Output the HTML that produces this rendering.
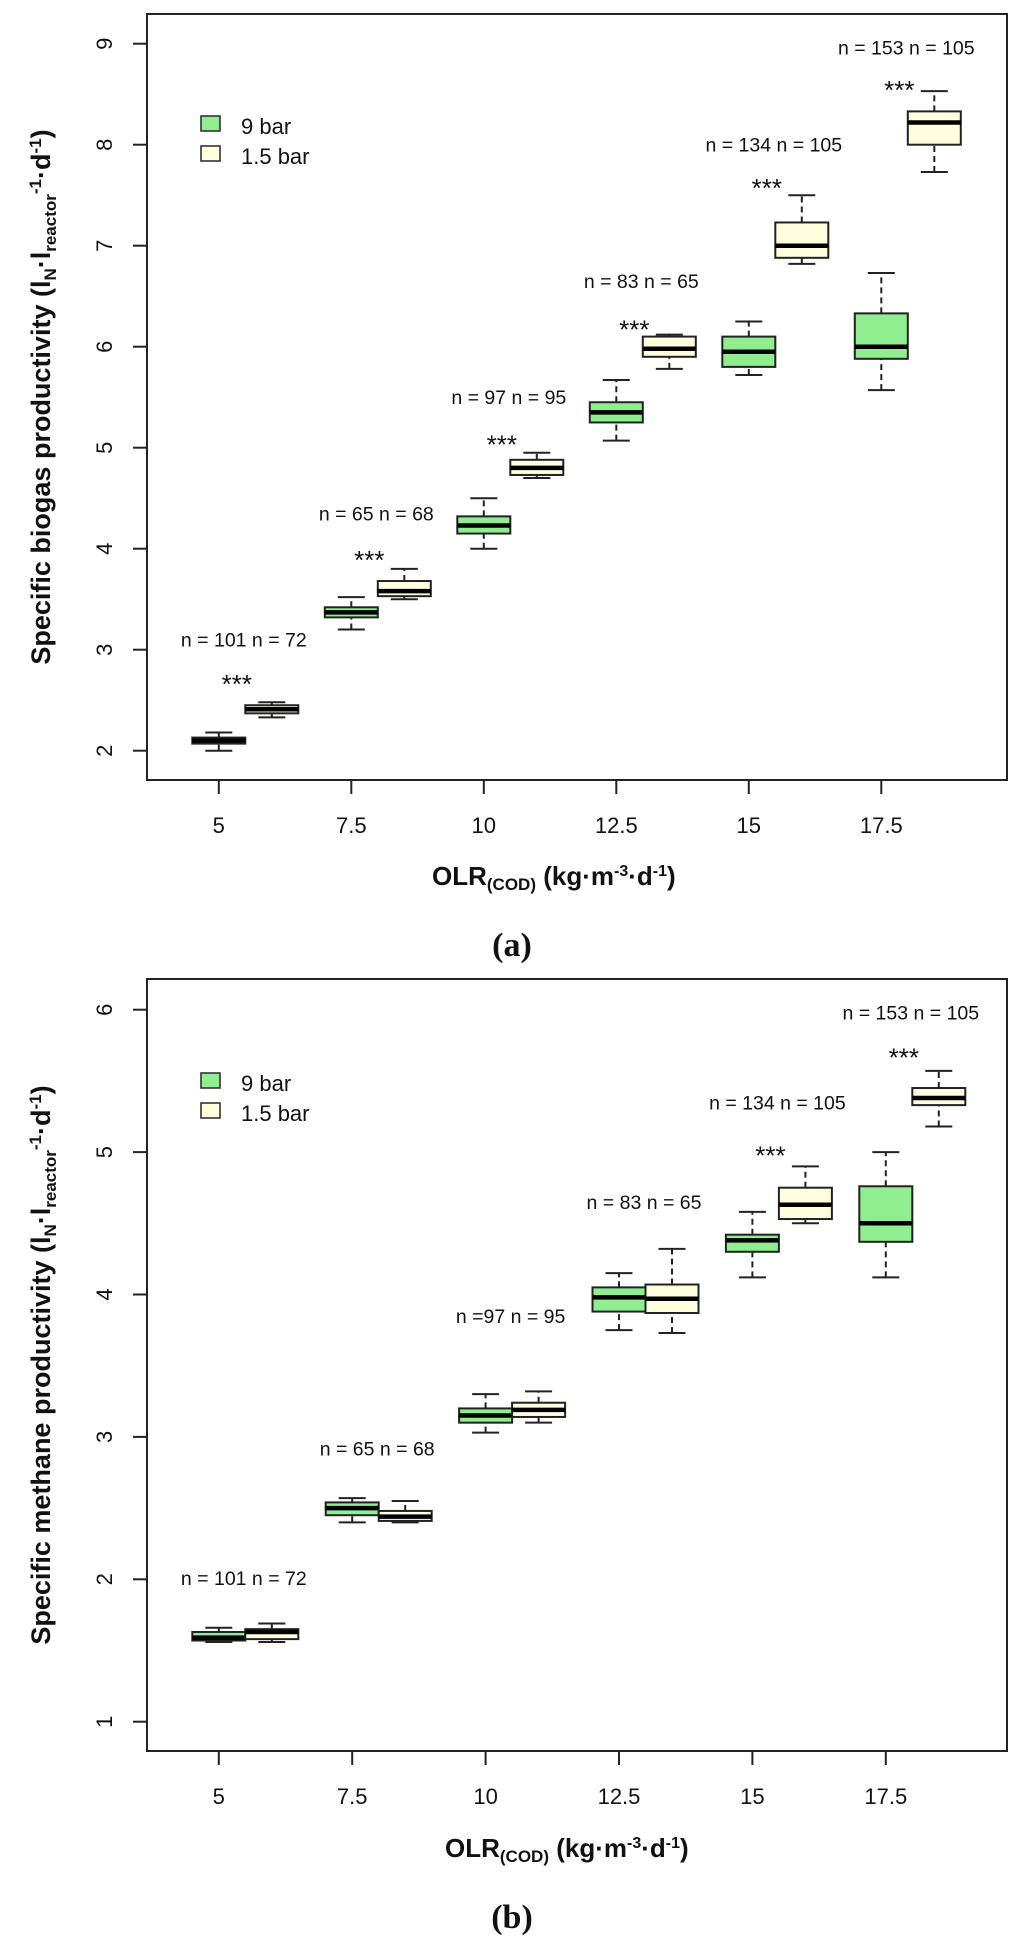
<!DOCTYPE html>
<html><head><meta charset="utf-8"><style>
html,body{margin:0;padding:0;background:#fff}
svg{display:block}
text{font-family:"Liberation Sans",Arial,sans-serif;fill:#111}
</style></head><body>
<svg id="chart" width="1024" height="1948" viewBox="0 0 1024 1948" xmlns="http://www.w3.org/2000/svg"></svg>
<script>
// ---- data ----
const categories = [5, 7.5, 10, 12.5, 15, 17.5];
const tickLabels = ["5", "7.5", "10", "12.5", "15", "17.5"];
// panel a: biogas [whiskerLow, q1, median, q3, whiskerHigh]
const biogasHigh = [[2.0,2.07,2.1,2.13,2.18],[3.2,3.32,3.37,3.42,3.52],[4.0,4.15,4.23,4.32,4.5],[5.07,5.25,5.35,5.45,5.67],[5.72,5.8,5.95,6.1,6.25],[5.57,5.88,6.0,6.33,6.73]];
const biogasLow = [[2.33,2.37,2.41,2.45,2.48],[3.5,3.53,3.58,3.68,3.8],[4.7,4.73,4.8,4.88,4.95],[5.78,5.9,5.98,6.1,6.12],[6.82,6.88,7.0,7.23,7.5],[7.73,8.0,8.22,8.33,8.53]];
const biogasN = ["n = 101 n = 72","n = 65 n = 68","n = 97 n = 95","n = 83 n = 65","n = 134 n = 105","n = 153 n = 105"];
const biogasNY = [3.1, 4.35, 5.5, 6.65, 8.0, 8.96];
const biogasStarY = [2.71, 3.94, 5.08, 6.22, 7.62, 8.59];
const biogasYTicks = [2,3,4,5,6,7,8,9];
// panel b: methane
const methaneHigh = [[1.56,1.57,1.59,1.63,1.66],[2.4,2.45,2.5,2.54,2.57],[3.03,3.1,3.15,3.2,3.3],[3.75,3.88,3.98,4.05,4.15],[4.12,4.3,4.38,4.42,4.58],[4.12,4.37,4.5,4.76,5.0]];
const methaneLow = [[1.56,1.58,1.63,1.65,1.69],[2.4,2.41,2.44,2.48,2.55],[3.1,3.14,3.19,3.24,3.32],[3.73,3.87,3.97,4.07,4.32],[4.5,4.53,4.63,4.75,4.9],[5.18,5.33,5.38,5.45,5.57]];
const methaneN = ["n = 101 n = 72","n = 65 n = 68","n =97 n = 95","n = 83  n = 65","n = 134  n = 105","n = 153  n = 105"];
const methaneNY = [2.01, 2.92, 3.85, 4.65, 5.35, 5.98];
const methaneStar = [false,false,false,false,true,true];
const methaneStarY = [0,0,0,0,5.01,5.70];
const methaneYTicks = [1,2,3,4,5,6];

const NS = "http://www.w3.org/2000/svg";
const svg = document.getElementById("chart");
function mk(tag, attrs, parent){const e=document.createElementNS(NS,tag);for(const k in attrs)e.setAttribute(k,attrs[k]);(parent||svg).appendChild(e);return e;}

function panel(cfg){
  const g = mk("g",{});
  
  
  const L=147,R=1007,T=cfg.top,B=cfg.bottom;
  const y = v => cfg.y0 - (v - cfg.v0) * cfg.unit;
  const x = c => 218.8 + (c - 5) / 2.5 * cfg.xstep;
  const frame = mk("rect",{x:L,y:T,width:R-L,height:B-T,fill:"none",stroke:"#222","stroke-width":2},g);
  
  
  cfg.yticks.forEach(v=>{
    const t=mk("line",{x1:L-14,x2:L,y1:y(v),y2:y(v),stroke:"#222","stroke-width":2},g);
    
    
    const lb=mk("text",{x:0,y:0,"font-size":22,"text-anchor":"middle",transform:`translate(112,${y(v)}) rotate(-90)`},g);
    lb.textContent=v;
    
    
  });
  categories.forEach((c,i)=>{
    const t=mk("line",{x1:x(c),x2:x(c),y1:B,y2:B+14,stroke:"#222","stroke-width":2},g);
    
    
    const lb=mk("text",{x:x(c),y:B+53,"font-size":22,"text-anchor":"middle"},g);
    lb.textContent=tickLabels[i];
    
    
  });
  function box(cx, s, fill, nm){
    const bg=mk("g",{},g);
    
    
    const hw=26.5, cw=13.5;
    mk("line",{x1:cx,x2:cx,y1:y(s[0]),y2:y(s[1]),stroke:"#222","stroke-width":2,"stroke-dasharray":"6,4"},bg);
    mk("line",{x1:cx,x2:cx,y1:y(s[3]),y2:y(s[4]),stroke:"#222","stroke-width":2,"stroke-dasharray":"6,4"},bg);
    mk("line",{x1:cx-cw,x2:cx+cw,y1:y(s[0]),y2:y(s[0]),stroke:"#222","stroke-width":2},bg);
    mk("line",{x1:cx-cw,x2:cx+cw,y1:y(s[4]),y2:y(s[4]),stroke:"#222","stroke-width":2},bg);
    mk("rect",{x:cx-hw,y:y(s[3]),width:2*hw,height:y(s[1])-y(s[3]),fill:fill,stroke:"#222","stroke-width":2},bg);
    mk("line",{x1:cx-hw,x2:cx+hw,y1:y(s[2]),y2:y(s[2]),stroke:"#000","stroke-width":4.5},bg);
  }
  categories.forEach((c,i)=>{
    box(x(c), cfg.high[i], "#90EE90", "box-9bar-"+tickLabels[i]);
    box(x(c)+53, cfg.low[i], "#FFFFE0", "box-1.5bar-"+tickLabels[i]);
    const n=mk("text",{x:x(c)+25,y:y(cfg.nY[i])+7,"font-size":19.5,"text-anchor":"middle"},g);
    n.textContent=cfg.n[i];
    
    
    if(cfg.star[i]){
      const s=mk("text",{x:x(c)+18,y:y(cfg.starY[i])+14,"font-size":26,"text-anchor":"middle"},g);
      s.textContent="***";
      
      
    }
  });
  const lg=mk("g",{},g);
  
  
  const ly=cfg.legendY;
  mk("rect",{x:201,y:ly,width:19,height:15,fill:"#90EE90",stroke:"#333","stroke-width":1.6},lg);
  mk("rect",{x:201,y:ly+30,width:19,height:15,fill:"#FFFFE0",stroke:"#333","stroke-width":1.6},lg);
  const t1=mk("text",{x:241,y:ly+18,"font-size":22},lg); t1.textContent="9 bar";
  
  
  const t2=mk("text",{x:241,y:ly+48,"font-size":22},lg); t2.textContent="1.5 bar";
  
  
  const yt=mk("text",{x:0,y:0,"font-size":27,"font-weight":"bold","text-anchor":"middle",transform:`translate(50,${(T+B)/2}) rotate(-90)`},g);
  yt.innerHTML=cfg.yTitle+' (l<tspan font-size="17" dy="6">N</tspan><tspan dy="-6">·l</tspan><tspan font-size="17" dy="6">reactor</tspan><tspan font-size="17" dy="-15">-1</tspan><tspan dy="9">·d</tspan><tspan font-size="17" dy="-9">-1</tspan><tspan dy="9">)</tspan>';
  
  
  const xt=mk("text",{x:cfg.xTitleX,y:cfg.xTitleY,"font-size":26,"font-weight":"bold"},g);
  xt.innerHTML='OLR<tspan font-size="17" dy="5">(COD)</tspan><tspan dy="-5"> (kg·m</tspan><tspan font-size="16" dy="-9">-3</tspan><tspan dy="9">·d</tspan><tspan font-size="16" dy="-9">-1</tspan><tspan dy="9">)</tspan>';
  
  
  const pl=mk("text",{x:cfg.panelX,y:cfg.panelY,"font-size":34,"font-weight":"bold","text-anchor":"middle",style:"font-family:'Liberation Serif',serif"},g);
  pl.textContent=cfg.panelLabel;
  
  
}

panel({name:"panel-a-biogas",top:14,bottom:780,y0:750.7,v0:2,unit:101.0,xstep:132.5,yticks:biogasYTicks,high:biogasHigh,low:biogasLow,n:biogasN,nY:biogasNY,star:[true,true,true,true,true,true],starY:biogasStarY,legendY:116,yTitle:"Specific biogas productivity",xTitleX:432,xTitleY:885,panelX:512,panelY:956,panelLabel:"(a)"});
panel({name:"panel-b-methane",top:979,bottom:1751,y0:1579.3,v0:2,unit:142.4,xstep:133.4,yticks:methaneYTicks,high:methaneHigh,low:methaneLow,n:methaneN,nY:methaneNY,star:methaneStar,starY:methaneStarY,legendY:1073,yTitle:"Specific methane productivity",xTitleX:445,xTitleY:1857,panelX:512,panelY:1928,panelLabel:"(b)"});
</script>
</body></html>
